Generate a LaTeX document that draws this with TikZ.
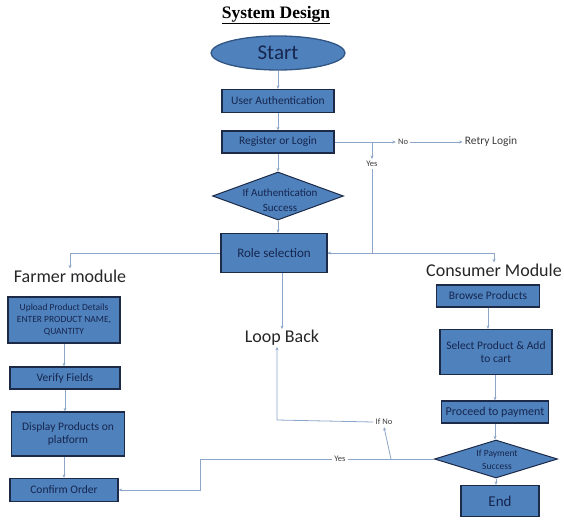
\documentclass[tikz,border=0pt]{standalone}
\usepackage{fontspec}
\setmainfont{Carlito}
\newfontfamily\titlefont{Liberation Serif}
\usetikzlibrary{shapes.geometric,arrows.meta}

\definecolor{boxfill}{RGB}{79,129,189}
\definecolor{boxline}{RGB}{28,42,72}
\definecolor{boxtext}{RGB}{22,38,78}
\definecolor{ovalline}{RGB}{50,86,132}
\definecolor{flowline}{RGB}{140,166,200}
\definecolor{labeltext}{RGB}{60,60,60}

\tikzset{
    block/.style={draw=boxline, line width=1.3, fill=boxfill, text=boxtext, align=center,
                  inner sep=1pt, font=\fontsize{11.5}{13}\selectfont},
    oval/.style={ellipse, draw=ovalline, line width=1.3, fill=boxfill, text=boxtext,
                 inner sep=0pt, minimum width=134, minimum height=34, font=\fontsize{21}{22}\selectfont},
    decision/.style={diamond, draw=boxline, line width=1, fill=boxfill, inner sep=0pt},
    dtext/.style={text=boxtext, align=center, inner sep=0pt, font=\fontsize{11}{15}\selectfont},
    heading/.style={text=black!85, inner sep=1pt, font=\fontsize{18}{20}\selectfont},
    small/.style={text=labeltext, inner sep=2pt, font=\fontsize{8.5}{9}\selectfont},
    flow/.style={line width=0.8, color=flowline, arrows=-{Stealth[length=3.5pt,width=3pt]}},
    plain/.style={line width=0.8, color=flowline}
}

\begin{document}
\begin{tikzpicture}[x=1pt, y=-1pt]
        \useasboundingbox (0, 0) rectangle (564, 519);

        % Title:
        \node[inner sep=0pt, font=\titlefont\bfseries\fontsize{17.5}{19}\selectfont] (title) at (276, 15) {\underline{System Design}};

        % Main column:
        \node[oval] (start) at (278, 53) {Start};
        \node[block, minimum width=112, minimum height=23] (auth) at (278, 101) {User Authentication};
        \node[block, minimum width=112, minimum height=22] (reg) at (278, 142) {Register or Login};
        \node[decision, minimum width=131, minimum height=48] (ifauth) at (278, 196) {};
        \node[dtext] (ifauthtext) at (280, 200) {If Authentication\\Success};
        \node[block, minimum width=106, minimum height=39, font=\fontsize{13}{15}\selectfont] (role) at (274, 253) {Role selection};

        % Login labels:
        \node[small] (no) at (403, 142) {No};
        \node[small, font=\fontsize{11.5}{13}\selectfont] (retry) at (491, 142) {Retry Login};
        \node[small] (yes) at (372, 164) {Yes};

        % Headings:
        \node[heading] (farmer) at (70, 276) {Farmer module};
        \node[heading] (consumer) at (494, 270) {Consumer Module};
        \node[heading] (loop) at (282, 338) {Loop Back};

        % Farmer module:
        \node[block, minimum width=112, minimum height=46, font=\fontsize{9.5}{12}\selectfont] (upload) at (64, 320) {Upload Product Details\\ENTER PRODUCT NAME,\\QUANTITY};
        \node[block, minimum width=110, minimum height=22] (verify) at (65, 378) {Verify Fields};
        \node[block, minimum width=113, minimum height=44] (display) at (68, 434) {Display Products on\\platform};
        \node[block, minimum width=108, minimum height=23] (confirm) at (64, 490) {Confirm Order};

        % Consumer module:
        \node[block, minimum width=103, minimum height=22] (browse) at (488, 296) {Browse Products};
        \node[block, minimum width=112, minimum height=45] (select) at (496, 352) {Select Product \& Add\\to cart};
        \node[block, minimum width=107, minimum height=22, font=\fontsize{12}{13}\selectfont] (proceed) at (495, 412) {Proceed to payment};
        \node[decision, minimum width=123, minimum height=38] (ifpay) at (496, 459) {};
        \node[dtext, font=\fontsize{9.5}{13}\selectfont] (ifpaytext) at (497, 460) {If Payment\\Success};
        \node[block, minimum width=78, minimum height=31, font=\fontsize{15}{16}\selectfont] (finish) at (500, 501) {End};

        % Payment labels:
        \node[small] (ifno) at (384, 422) {If No};
        \node[small] (yespay) at (340, 459) {Yes};

        % Corners:
        \coordinate (split) at (391, 459);
        \coordinate (loopturn) at (277, 420);
        \coordinate (yesturn) at (200, 459);

        % Arrows, main column:
        \draw[flow] (start) -- (auth);
        \draw[flow] (auth) -- (reg);
        \draw[flow] (reg) -- (ifauth);
        \draw[flow] (ifauth.south) -- (ifauth.south |- role.north);
        \draw[flow] (reg.east) -- (no.west);
        \draw[flow] (no.east) -- (retry.west);
        \draw[flow] (yes.north |- reg.east) -- (yes.north);
        \draw[flow] (yes.south) -- (yes.south |- role.east) -- (role.east);
        \draw[flow] (role.east) -- (consumer.north |- role.east) -- (consumer.north);
        \draw[flow] (role.west) -- (farmer.north |- role.west) -- (farmer.north);
        \draw[flow] (loop.north |- role.south) -- (loop.north);

        % Arrows, farmer module:
        \draw[flow] (upload.south) -- (upload.south |- verify.north);
        \draw[flow] (verify.south) -- (verify.south |- display.north);
        \draw[flow] (confirm.north |- display.south) -- (confirm.north);

        % Arrows, consumer module:
        \draw[flow] (browse.south) -- (browse.south |- select.north);
        \draw[flow] (proceed.north |- select.south) -- (proceed.north);
        \draw[flow] (proceed.south) -- (proceed.south |- ifpay.north);
        \draw[flow] (ifpay.south) -- (ifpay.south |- finish.north);

        % Payment result:
        \draw[plain] (ifpay.west) -- (yespay.east);
        \draw[flow] (split) -- (ifno.south);
        \draw[flow] (ifno.west) -- (loopturn) -- (loopturn |- loop.south);
        \draw[flow] (yespay.west) -- (yesturn) -- (yesturn |- confirm.east) -- (confirm.east);
    \end{tikzpicture}
\end{document}
